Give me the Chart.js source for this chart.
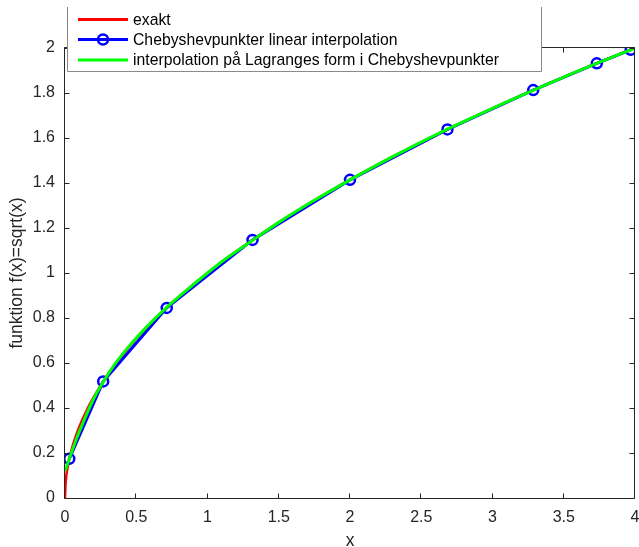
<!DOCTYPE html>
<html>
<head>
<meta charset="utf-8">
<script src="https://cdn.jsdelivr.net/npm/chart.js@4/dist/chart.umd.min.js"></script>
<style>
html,body{margin:0;padding:0;background:#fff;}
#wrap{width:639px;height:547px;position:relative;}
</style>
</head>
<body>
<div id="wrap"><canvas id="c" width="639" height="547"></canvas></div>
<script>
// ---- data ----
const xTickValues = [0, 0.5, 1, 1.5, 2, 2.5, 3, 3.5, 4];
const xTickLabels = ['0', '0.5', '1', '1.5', '2', '2.5', '3', '3.5', '4'];
const yTickValues = [0, 0.2, 0.4, 0.6, 0.8, 1, 1.2, 1.4, 1.6, 1.8, 2];
const yTickLabels = ['0', '0.2', '0.4', '0.6', '0.8', '1', '1.2', '1.4', '1.6', '1.8', '2'];
const seriesNames = ['exakt', 'Chebyshevpunkter linear interpolation', 'interpolation på Lagranges form i Chebyshevpunkter'];
const xTitle = 'x';
const yTitle = 'funktion f(x)=sqrt(x)';

// exakt (red)
const xExakt = [0, 0.005, 0.02, 0.05, 0.1, 0.15, 0.2, 0.3, 0.4, 0.5, 0.65, 0.8, 1, 1.2, 1.45, 1.7, 2, 2.3, 2.6, 3, 3.4, 3.7, 4];
const yExakt = [0, 0.071, 0.141, 0.224, 0.316, 0.387, 0.447, 0.548, 0.632, 0.707, 0.806, 0.894, 1, 1.095, 1.204, 1.304, 1.414, 1.517, 1.612, 1.732, 1.844, 1.924, 2];

// Chebyshev nodes, linear interpolation (blue)
const xCheb = [0.03, 0.268, 0.714, 1.316, 2.0, 2.684, 3.286, 3.732, 3.97];
const yCheb = [0.174, 0.518, 0.845, 1.147, 1.414, 1.638, 1.813, 1.932, 1.992];

// Lagrange interpolation in Chebyshev nodes (green)
const xLagr = [0, 0.03, 0.08, 0.14, 0.2, 0.27, 0.35, 0.45, 0.58, 0.71, 0.85, 1.0, 1.15, 1.32, 1.5, 1.75, 2.0, 2.3, 2.68, 3.0, 3.29, 3.5, 3.73, 3.87, 3.97, 4.0];
const yLagr = [0.12, 0.174, 0.262, 0.355, 0.44, 0.518, 0.595, 0.675, 0.765, 0.845, 0.922, 1.0, 1.073, 1.147, 1.225, 1.323, 1.414, 1.517, 1.638, 1.732, 1.813, 1.871, 1.932, 1.967, 1.992, 2.0];

const seriesColors = ['#ff0000', '#0000ff', '#00ff00'];

// ---- build ----
const FONT = '"Liberation Sans", Arial, Helvetica, sans-serif';
const FS = 16;
const FS_TITLE = 17.5;
const FS_LEGEND = 15.75;
const AXIS_COLOR = '#262626';
const toPts = (xs, ys) => xs.map((x, i) => ({x: x, y: ys[i]}));

const boxPlugin = {
  id: 'matlabBox',
  afterDatasetsDraw(chart) {
    const ctx = chart.ctx;
    const a = chart.chartArea;
    const xs = chart.scales.x, ys = chart.scales.y;
    const L = a.left - 0.5, R = a.right - 0.5, T = a.top - 0.5, B = a.bottom + 0.5;
    ctx.save();
    ctx.strokeStyle = AXIS_COLOR;
    ctx.lineWidth = 1;
    ctx.beginPath();
    ctx.moveTo(L, T); ctx.lineTo(R, T); ctx.lineTo(R, B); ctx.lineTo(L, B); ctx.closePath();
    const tl = 5;
    xTickValues.forEach(v => {
      const p = Math.round(xs.getPixelForValue(v)) - 0.5;
      ctx.moveTo(p, B); ctx.lineTo(p, B - tl);
      ctx.moveTo(p, T); ctx.lineTo(p, T + tl);
    });
    yTickValues.forEach(v => {
      const p = Math.round(ys.getPixelForValue(v)) + 0.5;
      ctx.moveTo(L, p); ctx.lineTo(L + tl, p);
      ctx.moveTo(R, p); ctx.lineTo(R - tl, p);
    });
    ctx.stroke();

    // legend box (drawn over the axes, as in the reference)
    const lx0 = 67.5, lx1 = 541.5, ly0 = 7, ly1 = 71.5;
    ctx.fillStyle = '#ffffff';
    ctx.fillRect(lx0, 0, lx1 - lx0, ly1);
    ctx.strokeStyle = '#8a8a8a';
    ctx.lineWidth = 1;
    ctx.beginPath();
    ctx.moveTo(lx0, ly0); ctx.lineTo(lx0, ly1); ctx.lineTo(lx1, ly1); ctx.lineTo(lx1, ly0);
    ctx.stroke();
    const rows = [19.5, 39.5, 60];
    ctx.font = FS_LEGEND + 'px ' + FONT;
    ctx.textBaseline = 'middle';
    ctx.textAlign = 'left';
    seriesNames.forEach((name, i) => {
      const y = rows[i];
      ctx.strokeStyle = seriesColors[i];
      ctx.lineWidth = 3;
      ctx.beginPath(); ctx.moveTo(78, y); ctx.lineTo(128, y); ctx.stroke();
      if (i === 1) {
        ctx.lineWidth = 2.5;
        ctx.beginPath(); ctx.arc(103, y, 5, 0, Math.PI * 2); ctx.stroke();
      }
      ctx.fillStyle = '#000000';
      ctx.fillText(name, 133, y + 1);
    });
    ctx.restore();
  }
};

new Chart(document.getElementById('c'), {
  type: 'line',
  data: {
    datasets: [
      {
        label: seriesNames[0], data: toPts(xExakt, yExakt),
        borderColor: seriesColors[0], borderWidth: 2.5, pointRadius: 0,
        cubicInterpolationMode: 'monotone', order: 3, fill: false
      },
      {
        label: seriesNames[1], data: toPts(xCheb, yCheb),
        borderColor: seriesColors[1], borderWidth: 3, tension: 0,
        pointRadius: 5, pointBorderWidth: 2.5, pointBorderColor: seriesColors[1],
        pointBackgroundColor: 'rgba(0,0,0,0)', order: 2, fill: false
      },
      {
        label: seriesNames[2], data: toPts(xLagr, yLagr),
        borderColor: seriesColors[2], borderWidth: 3, pointRadius: 0,
        cubicInterpolationMode: 'monotone', order: 1, fill: false
      }
    ]
  },
  options: {
    responsive: false,
    animation: false,
    devicePixelRatio: 1,
    layout: {autoPadding: false, padding: {left: 0, right: 4, top: 48, bottom: 0}},
    plugins: {legend: {display: false}, tooltip: {enabled: false}},
    scales: {
      x: {
        type: 'linear', min: 0, max: 4,
        afterBuildTicks: s => { s.ticks = xTickValues.map(v => ({value: v})); },
        afterFit: s => { s.height = 49; s.paddingLeft = 0; s.paddingRight = 0; },
        grid: {display: false, drawTicks: false},
        border: {display: false},
        ticks: {
          callback: (v, i) => xTickLabels[i], color: AXIS_COLOR,
          font: {family: FONT, size: FS}, padding: 10, maxRotation: 0, autoSkip: false
        },
        title: {display: true, text: xTitle, color: AXIS_COLOR,
          font: {family: FONT, size: FS_TITLE, lineHeight: 1}, padding: {top: 0, bottom: -3}}
      },
      y: {
        type: 'linear', min: 0, max: 2,
        afterBuildTicks: s => { s.ticks = yTickValues.map(v => ({value: v})); },
        afterFit: s => { s.width = 65; s.paddingTop = 0; s.paddingBottom = 0; },
        grid: {display: false, drawTicks: false},
        border: {display: false},
        ticks: {
          callback: (v, i) => yTickLabels[i], color: AXIS_COLOR,
          font: {family: FONT, size: FS}, padding: 10, autoSkip: false
        },
        title: {display: true, text: yTitle, color: AXIS_COLOR,
          font: {family: FONT, size: FS_TITLE, lineHeight: 1}, padding: {top: 8, bottom: 0}}
      }
    }
  },
  plugins: [boxPlugin]
});
</script>
</body>
</html>
